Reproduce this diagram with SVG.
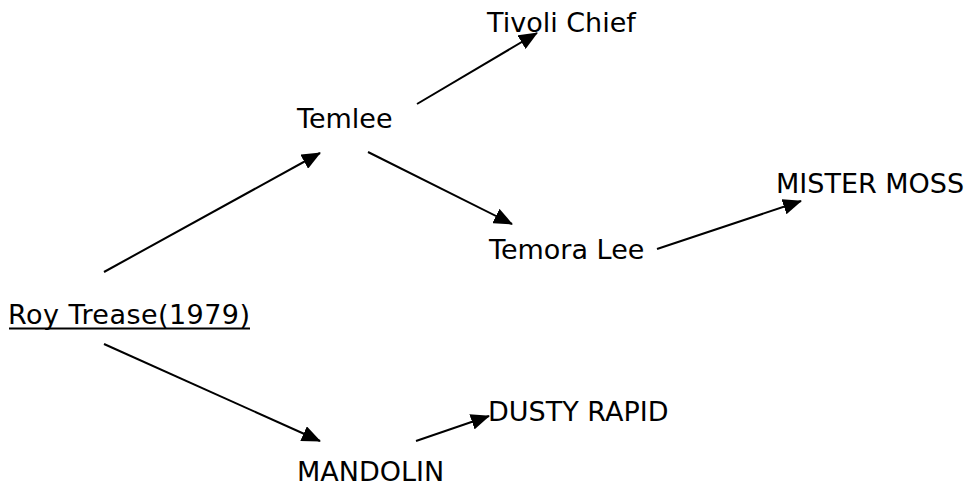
<svg xmlns="http://www.w3.org/2000/svg" width="971" height="488" viewBox="0 0 971 488">
  <style>
    .lbl { font-family: "DejaVu Sans", Verdana, sans-serif; font-size: 27px; fill: #000; }
    .conn { stroke: #000; stroke-width: 2; fill: none; marker-end: url(#arrow); }
  </style>
  <defs>
    <marker id="arrow" markerUnits="userSpaceOnUse" markerWidth="19" markerHeight="16" refX="18" refY="8" orient="auto">
      <path d="M0,0 L19,8 L0,16 Z" fill="#000"/>
    </marker>
  </defs>
  <rect width="971" height="488" fill="#fff"/>
  <g id="connectors">
    <line class="conn" x1="104" y1="272" x2="320" y2="153"/>
    <line class="conn" x1="417" y1="104" x2="537" y2="33"/>
    <line class="conn" x1="368" y1="152" x2="512" y2="224"/>
    <line class="conn" x1="657" y1="249" x2="801" y2="201"/>
    <line class="conn" x1="104" y1="344" x2="320" y2="441"/>
    <line class="conn" x1="416" y1="441" x2="489" y2="416"/>
  </g>
  <g id="roy">
    <text class="lbl" x="8" y="324" textLength="242" lengthAdjust="spacing">Roy Trease(1979)</text>
    <line x1="9" y1="328.5" x2="250" y2="328.5" stroke="#000" stroke-width="2"/>
  </g>
  <g id="temlee"><text class="lbl" x="297" y="128">Temlee</text></g>
  <g id="tivoli"><text class="lbl" x="487" y="32">Tivoli Chief</text></g>
  <g id="temora"><text class="lbl" x="489" y="259">Temora Lee</text></g>
  <g id="mister"><text class="lbl" x="776" y="193">MISTER MOSS</text></g>
  <g id="mandolin"><text class="lbl" x="297" y="481">MANDOLIN</text></g>
  <g id="dusty"><text class="lbl" x="488" y="421">DUSTY RAPID</text></g>
</svg>
